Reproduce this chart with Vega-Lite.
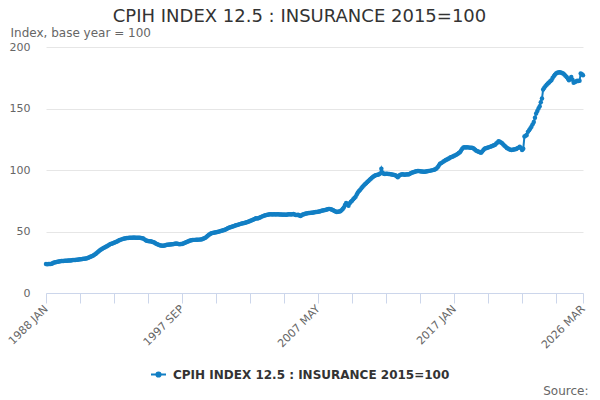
{
  "$schema": "https://vega.github.io/schema/vega-lite/v6.json",
  "width": 537,
  "height": 246,
  "autosize": {"type": "none"},
  "padding": {"left": 46, "top": 47, "right": 17, "bottom": 107},
  "background": "white",
  "config": {
    "font": "DejaVu Sans",
    "view": {"stroke": null}
  },
  "title": {
    "text": "CPIH INDEX 12.5 : INSURANCE 2015=100",
    "anchor": "middle",
    "frame": "group",
    "dx": -15,
    "offset": 0,
    "fontSize": 18,
    "fontWeight": "normal",
    "color": "#333333",
    "font": "DejaVu Sans"
  },
  "data": {
    "values": [
      {"month": "1988-01", "value": 23.5}, {"month": "1988-02", "value": 23.4}, {"month": "1988-03", "value": 23.5}, {"month": "1988-04", "value": 23.6},
      {"month": "1988-05", "value": 23.5}, {"month": "1988-06", "value": 23.8}, {"month": "1988-07", "value": 24.3}, {"month": "1988-08", "value": 24.8},
      {"month": "1988-09", "value": 25.0}, {"month": "1988-10", "value": 25.2}, {"month": "1988-11", "value": 25.4}, {"month": "1988-12", "value": 25.6},
      {"month": "1989-01", "value": 25.9}, {"month": "1989-02", "value": 26.0}, {"month": "1989-03", "value": 26.0}, {"month": "1989-04", "value": 26.1},
      {"month": "1989-05", "value": 26.2}, {"month": "1989-06", "value": 26.3}, {"month": "1989-07", "value": 26.3}, {"month": "1989-08", "value": 26.4},
      {"month": "1989-09", "value": 26.5}, {"month": "1989-10", "value": 26.5}, {"month": "1989-11", "value": 26.6}, {"month": "1989-12", "value": 26.8},
      {"month": "1990-01", "value": 26.8}, {"month": "1990-02", "value": 26.9}, {"month": "1990-03", "value": 27.0}, {"month": "1990-04", "value": 27.1},
      {"month": "1990-05", "value": 27.2}, {"month": "1990-06", "value": 27.4}, {"month": "1990-07", "value": 27.5}, {"month": "1990-08", "value": 27.6},
      {"month": "1990-09", "value": 27.8}, {"month": "1990-10", "value": 27.9}, {"month": "1990-11", "value": 28.0}, {"month": "1990-12", "value": 28.2},
      {"month": "1991-01", "value": 28.6}, {"month": "1991-02", "value": 29.0}, {"month": "1991-03", "value": 29.4}, {"month": "1991-04", "value": 29.8},
      {"month": "1991-05", "value": 30.3}, {"month": "1991-06", "value": 30.9}, {"month": "1991-07", "value": 31.6}, {"month": "1991-08", "value": 32.3},
      {"month": "1991-09", "value": 33.1}, {"month": "1991-10", "value": 34.0}, {"month": "1991-11", "value": 34.8}, {"month": "1991-12", "value": 35.4},
      {"month": "1992-01", "value": 35.9}, {"month": "1992-02", "value": 36.5}, {"month": "1992-03", "value": 37.0}, {"month": "1992-04", "value": 37.6},
      {"month": "1992-05", "value": 38.0}, {"month": "1992-06", "value": 38.6}, {"month": "1992-07", "value": 39.2}, {"month": "1992-08", "value": 39.8},
      {"month": "1992-09", "value": 40.1}, {"month": "1992-10", "value": 40.4}, {"month": "1992-11", "value": 40.8}, {"month": "1992-12", "value": 41.2},
      {"month": "1993-01", "value": 41.6}, {"month": "1993-02", "value": 42.1}, {"month": "1993-03", "value": 42.6}, {"month": "1993-04", "value": 43.1},
      {"month": "1993-05", "value": 43.4}, {"month": "1993-06", "value": 43.8}, {"month": "1993-07", "value": 44.1}, {"month": "1993-08", "value": 44.3},
      {"month": "1993-09", "value": 44.6}, {"month": "1993-10", "value": 44.7}, {"month": "1993-11", "value": 44.8}, {"month": "1993-12", "value": 44.9},
      {"month": "1994-01", "value": 45.0}, {"month": "1994-02", "value": 44.9}, {"month": "1994-03", "value": 45.0}, {"month": "1994-04", "value": 45.1},
      {"month": "1994-05", "value": 45.0}, {"month": "1994-06", "value": 45.0}, {"month": "1994-07", "value": 44.9}, {"month": "1994-08", "value": 45.0},
      {"month": "1994-09", "value": 45.0}, {"month": "1994-10", "value": 44.8}, {"month": "1994-11", "value": 44.6}, {"month": "1994-12", "value": 44.3},
      {"month": "1995-01", "value": 43.6}, {"month": "1995-02", "value": 42.9}, {"month": "1995-03", "value": 42.5}, {"month": "1995-04", "value": 42.3},
      {"month": "1995-05", "value": 42.1}, {"month": "1995-06", "value": 42.0}, {"month": "1995-07", "value": 41.8}, {"month": "1995-08", "value": 41.5},
      {"month": "1995-09", "value": 41.2}, {"month": "1995-10", "value": 40.6}, {"month": "1995-11", "value": 40.0}, {"month": "1995-12", "value": 39.6},
      {"month": "1996-01", "value": 39.2}, {"month": "1996-02", "value": 38.9}, {"month": "1996-03", "value": 38.6}, {"month": "1996-04", "value": 38.5},
      {"month": "1996-05", "value": 38.5}, {"month": "1996-06", "value": 38.7}, {"month": "1996-07", "value": 38.9}, {"month": "1996-08", "value": 39.2},
      {"month": "1996-09", "value": 39.3}, {"month": "1996-10", "value": 39.4}, {"month": "1996-11", "value": 39.5}, {"month": "1996-12", "value": 39.6},
      {"month": "1997-01", "value": 39.7}, {"month": "1997-02", "value": 39.8}, {"month": "1997-03", "value": 40.0}, {"month": "1997-04", "value": 40.2},
      {"month": "1997-05", "value": 40.1}, {"month": "1997-06", "value": 39.9}, {"month": "1997-07", "value": 39.7}, {"month": "1997-08", "value": 39.8},
      {"month": "1997-09", "value": 39.9}, {"month": "1997-10", "value": 40.3}, {"month": "1997-11", "value": 40.7}, {"month": "1997-12", "value": 41.1},
      {"month": "1998-01", "value": 41.5}, {"month": "1998-02", "value": 41.9}, {"month": "1998-03", "value": 42.3}, {"month": "1998-04", "value": 42.6},
      {"month": "1998-05", "value": 42.9}, {"month": "1998-06", "value": 43.1}, {"month": "1998-07", "value": 43.2}, {"month": "1998-08", "value": 43.2},
      {"month": "1998-09", "value": 43.3}, {"month": "1998-10", "value": 43.3}, {"month": "1998-11", "value": 43.4}, {"month": "1998-12", "value": 43.4},
      {"month": "1999-01", "value": 43.5}, {"month": "1999-02", "value": 43.7}, {"month": "1999-03", "value": 44.1}, {"month": "1999-04", "value": 44.6},
      {"month": "1999-05", "value": 45.0}, {"month": "1999-06", "value": 45.8}, {"month": "1999-07", "value": 46.6}, {"month": "1999-08", "value": 47.4},
      {"month": "1999-09", "value": 48.0}, {"month": "1999-10", "value": 48.5}, {"month": "1999-11", "value": 48.8}, {"month": "1999-12", "value": 49.0},
      {"month": "2000-01", "value": 49.2}, {"month": "2000-02", "value": 49.4}, {"month": "2000-03", "value": 49.6}, {"month": "2000-04", "value": 49.8},
      {"month": "2000-05", "value": 50.1}, {"month": "2000-06", "value": 50.4}, {"month": "2000-07", "value": 50.7}, {"month": "2000-08", "value": 51.0},
      {"month": "2000-09", "value": 51.2}, {"month": "2000-10", "value": 51.6}, {"month": "2000-11", "value": 52.1}, {"month": "2000-12", "value": 52.6},
      {"month": "2001-01", "value": 53.0}, {"month": "2001-02", "value": 53.4}, {"month": "2001-03", "value": 53.7}, {"month": "2001-04", "value": 54.0},
      {"month": "2001-05", "value": 54.3}, {"month": "2001-06", "value": 54.6}, {"month": "2001-07", "value": 55.0}, {"month": "2001-08", "value": 55.3},
      {"month": "2001-09", "value": 55.6}, {"month": "2001-10", "value": 55.9}, {"month": "2001-11", "value": 56.2}, {"month": "2001-12", "value": 56.5},
      {"month": "2002-01", "value": 56.7}, {"month": "2002-02", "value": 56.9}, {"month": "2002-03", "value": 57.2}, {"month": "2002-04", "value": 57.5},
      {"month": "2002-05", "value": 57.8}, {"month": "2002-06", "value": 58.2}, {"month": "2002-07", "value": 58.5}, {"month": "2002-08", "value": 58.9},
      {"month": "2002-09", "value": 59.3}, {"month": "2002-10", "value": 59.8}, {"month": "2002-11", "value": 60.2}, {"month": "2002-12", "value": 60.7},
      {"month": "2003-01", "value": 60.5}, {"month": "2003-02", "value": 60.7}, {"month": "2003-03", "value": 61.1}, {"month": "2003-04", "value": 61.6},
      {"month": "2003-05", "value": 62.1}, {"month": "2003-06", "value": 62.5}, {"month": "2003-07", "value": 62.9}, {"month": "2003-08", "value": 63.2},
      {"month": "2003-09", "value": 63.5}, {"month": "2003-10", "value": 63.7}, {"month": "2003-11", "value": 63.9}, {"month": "2003-12", "value": 64.0},
      {"month": "2004-01", "value": 64.0}, {"month": "2004-02", "value": 63.9}, {"month": "2004-03", "value": 64.1}, {"month": "2004-04", "value": 64.0},
      {"month": "2004-05", "value": 63.8}, {"month": "2004-06", "value": 64.0}, {"month": "2004-07", "value": 64.1}, {"month": "2004-08", "value": 63.9},
      {"month": "2004-09", "value": 63.8}, {"month": "2004-10", "value": 63.9}, {"month": "2004-11", "value": 63.7}, {"month": "2004-12", "value": 63.8},
      {"month": "2005-01", "value": 63.7}, {"month": "2005-02", "value": 63.6}, {"month": "2005-03", "value": 63.9}, {"month": "2005-04", "value": 64.1},
      {"month": "2005-05", "value": 64.0}, {"month": "2005-06", "value": 63.8}, {"month": "2005-07", "value": 64.0}, {"month": "2005-08", "value": 64.2},
      {"month": "2005-09", "value": 63.9}, {"month": "2005-10", "value": 63.5}, {"month": "2005-11", "value": 63.4}, {"month": "2005-12", "value": 63.6},
      {"month": "2006-01", "value": 63.0}, {"month": "2006-02", "value": 62.6}, {"month": "2006-03", "value": 63.2}, {"month": "2006-04", "value": 63.8},
      {"month": "2006-05", "value": 64.1}, {"month": "2006-06", "value": 64.5}, {"month": "2006-07", "value": 64.7}, {"month": "2006-08", "value": 64.9},
      {"month": "2006-09", "value": 65.0}, {"month": "2006-10", "value": 65.1}, {"month": "2006-11", "value": 65.2}, {"month": "2006-12", "value": 65.3},
      {"month": "2007-01", "value": 65.5}, {"month": "2007-02", "value": 65.6}, {"month": "2007-03", "value": 65.8}, {"month": "2007-04", "value": 65.9},
      {"month": "2007-05", "value": 66.1}, {"month": "2007-06", "value": 66.3}, {"month": "2007-07", "value": 66.5}, {"month": "2007-08", "value": 66.8},
      {"month": "2007-09", "value": 67.0}, {"month": "2007-10", "value": 67.2}, {"month": "2007-11", "value": 67.5}, {"month": "2007-12", "value": 67.7},
      {"month": "2008-01", "value": 68.0}, {"month": "2008-02", "value": 68.3}, {"month": "2008-03", "value": 68.4}, {"month": "2008-04", "value": 68.1},
      {"month": "2008-05", "value": 67.7}, {"month": "2008-06", "value": 67.2}, {"month": "2008-07", "value": 66.7}, {"month": "2008-08", "value": 66.3},
      {"month": "2008-09", "value": 65.9}, {"month": "2008-10", "value": 66.0}, {"month": "2008-11", "value": 66.2}, {"month": "2008-12", "value": 66.4},
      {"month": "2009-01", "value": 67.2}, {"month": "2009-02", "value": 68.3}, {"month": "2009-03", "value": 69.6}, {"month": "2009-04", "value": 71.5},
      {"month": "2009-05", "value": 73.1}, {"month": "2009-06", "value": 72.0}, {"month": "2009-07", "value": 71.0}, {"month": "2009-08", "value": 73.0},
      {"month": "2009-09", "value": 74.2}, {"month": "2009-10", "value": 75.0}, {"month": "2009-11", "value": 76.3}, {"month": "2009-12", "value": 77.3},
      {"month": "2010-01", "value": 78.2}, {"month": "2010-02", "value": 80.0}, {"month": "2010-03", "value": 81.7}, {"month": "2010-04", "value": 82.9},
      {"month": "2010-05", "value": 84.0}, {"month": "2010-06", "value": 85.2}, {"month": "2010-07", "value": 86.3}, {"month": "2010-08", "value": 87.4},
      {"month": "2010-09", "value": 88.4}, {"month": "2010-10", "value": 89.3}, {"month": "2010-11", "value": 90.2}, {"month": "2010-12", "value": 91.1},
      {"month": "2011-01", "value": 92.0}, {"month": "2011-02", "value": 92.9}, {"month": "2011-03", "value": 93.8}, {"month": "2011-04", "value": 94.5},
      {"month": "2011-05", "value": 95.1}, {"month": "2011-06", "value": 95.7}, {"month": "2011-07", "value": 96.0}, {"month": "2011-08", "value": 96.2},
      {"month": "2011-09", "value": 96.5}, {"month": "2011-10", "value": 97.2}, {"month": "2011-11", "value": 101.0}, {"month": "2011-12", "value": 98.0},
      {"month": "2012-01", "value": 97.0}, {"month": "2012-02", "value": 96.8}, {"month": "2012-03", "value": 96.9}, {"month": "2012-04", "value": 97.0},
      {"month": "2012-05", "value": 96.8}, {"month": "2012-06", "value": 96.8}, {"month": "2012-07", "value": 96.6}, {"month": "2012-08", "value": 96.4},
      {"month": "2012-09", "value": 96.2}, {"month": "2012-10", "value": 96.0}, {"month": "2012-11", "value": 95.7}, {"month": "2012-12", "value": 95.0},
      {"month": "2013-01", "value": 94.1}, {"month": "2013-02", "value": 95.4}, {"month": "2013-03", "value": 96.0}, {"month": "2013-04", "value": 96.3},
      {"month": "2013-05", "value": 96.5}, {"month": "2013-06", "value": 96.3}, {"month": "2013-07", "value": 96.1}, {"month": "2013-08", "value": 96.3},
      {"month": "2013-09", "value": 96.5}, {"month": "2013-10", "value": 96.3}, {"month": "2013-11", "value": 96.8}, {"month": "2013-12", "value": 97.3},
      {"month": "2014-01", "value": 97.8}, {"month": "2014-02", "value": 98.1}, {"month": "2014-03", "value": 98.4}, {"month": "2014-04", "value": 98.7},
      {"month": "2014-05", "value": 98.9}, {"month": "2014-06", "value": 99.1}, {"month": "2014-07", "value": 99.2}, {"month": "2014-08", "value": 99.0},
      {"month": "2014-09", "value": 98.8}, {"month": "2014-10", "value": 98.7}, {"month": "2014-11", "value": 98.6}, {"month": "2014-12", "value": 98.6},
      {"month": "2015-01", "value": 98.7}, {"month": "2015-02", "value": 98.9}, {"month": "2015-03", "value": 99.1}, {"month": "2015-04", "value": 99.3},
      {"month": "2015-05", "value": 99.5}, {"month": "2015-06", "value": 99.7}, {"month": "2015-07", "value": 99.9}, {"month": "2015-08", "value": 100.2},
      {"month": "2015-09", "value": 100.6}, {"month": "2015-10", "value": 101.3}, {"month": "2015-11", "value": 102.3}, {"month": "2015-12", "value": 103.6},
      {"month": "2016-01", "value": 105.0}, {"month": "2016-02", "value": 105.6}, {"month": "2016-03", "value": 106.2}, {"month": "2016-04", "value": 106.9},
      {"month": "2016-05", "value": 107.5}, {"month": "2016-06", "value": 108.1}, {"month": "2016-07", "value": 108.6}, {"month": "2016-08", "value": 109.1},
      {"month": "2016-09", "value": 109.6}, {"month": "2016-10", "value": 110.3}, {"month": "2016-11", "value": 110.6}, {"month": "2016-12", "value": 111.0},
      {"month": "2017-01", "value": 111.5}, {"month": "2017-02", "value": 111.9}, {"month": "2017-03", "value": 112.5}, {"month": "2017-04", "value": 113.1},
      {"month": "2017-05", "value": 113.8}, {"month": "2017-06", "value": 114.4}, {"month": "2017-07", "value": 115.8}, {"month": "2017-08", "value": 117.2},
      {"month": "2017-09", "value": 118.4}, {"month": "2017-10", "value": 118.5}, {"month": "2017-11", "value": 118.3}, {"month": "2017-12", "value": 118.5},
      {"month": "2018-01", "value": 118.4}, {"month": "2018-02", "value": 118.2}, {"month": "2018-03", "value": 118.0}, {"month": "2018-04", "value": 118.1},
      {"month": "2018-05", "value": 117.9}, {"month": "2018-06", "value": 117.2}, {"month": "2018-07", "value": 116.4}, {"month": "2018-08", "value": 115.7},
      {"month": "2018-09", "value": 115.2}, {"month": "2018-10", "value": 114.8}, {"month": "2018-11", "value": 114.4}, {"month": "2018-12", "value": 114.1},
      {"month": "2019-01", "value": 115.0}, {"month": "2019-02", "value": 116.2}, {"month": "2019-03", "value": 117.3}, {"month": "2019-04", "value": 117.6},
      {"month": "2019-05", "value": 117.9}, {"month": "2019-06", "value": 118.3}, {"month": "2019-07", "value": 118.6}, {"month": "2019-08", "value": 119.0},
      {"month": "2019-09", "value": 119.3}, {"month": "2019-10", "value": 119.7}, {"month": "2019-11", "value": 120.1}, {"month": "2019-12", "value": 120.6},
      {"month": "2020-01", "value": 121.5}, {"month": "2020-02", "value": 122.4}, {"month": "2020-03", "value": 123.3}, {"month": "2020-04", "value": 123.0},
      {"month": "2020-05", "value": 122.4}, {"month": "2020-06", "value": 121.7}, {"month": "2020-07", "value": 120.8}, {"month": "2020-08", "value": 119.8},
      {"month": "2020-09", "value": 118.9}, {"month": "2020-10", "value": 117.9}, {"month": "2020-11", "value": 117.4}, {"month": "2020-12", "value": 116.9},
      {"month": "2021-01", "value": 116.5}, {"month": "2021-02", "value": 116.3}, {"month": "2021-03", "value": 116.4}, {"month": "2021-04", "value": 116.6},
      {"month": "2021-05", "value": 116.8}, {"month": "2021-06", "value": 117.1}, {"month": "2021-07", "value": 117.6}, {"month": "2021-08", "value": 118.2},
      {"month": "2021-09", "value": 119.0}, {"month": "2021-10", "value": 117.8}, {"month": "2021-11", "value": 116.3}, {"month": "2021-12", "value": 117.2},
      {"month": "2022-01", "value": 127.3}, {"month": "2022-02", "value": 127.9}, {"month": "2022-03", "value": 128.5}, {"month": "2022-04", "value": 131.0},
      {"month": "2022-05", "value": 132.4}, {"month": "2022-06", "value": 133.7}, {"month": "2022-07", "value": 135.2}, {"month": "2022-08", "value": 137.1},
      {"month": "2022-09", "value": 139.0}, {"month": "2022-10", "value": 142.5}, {"month": "2022-11", "value": 145.9}, {"month": "2022-12", "value": 148.0},
      {"month": "2023-01", "value": 150.0}, {"month": "2023-02", "value": 151.9}, {"month": "2023-03", "value": 155.0}, {"month": "2023-04", "value": 158.1},
      {"month": "2023-05", "value": 165.4}, {"month": "2023-06", "value": 166.8}, {"month": "2023-07", "value": 168.2}, {"month": "2023-08", "value": 169.3},
      {"month": "2023-09", "value": 170.3}, {"month": "2023-10", "value": 171.2}, {"month": "2023-11", "value": 172.1}, {"month": "2023-12", "value": 173.0},
      {"month": "2024-01", "value": 174.8}, {"month": "2024-02", "value": 176.3}, {"month": "2024-03", "value": 177.4}, {"month": "2024-04", "value": 178.5},
      {"month": "2024-05", "value": 179.0}, {"month": "2024-06", "value": 179.3}, {"month": "2024-07", "value": 179.5}, {"month": "2024-08", "value": 179.2},
      {"month": "2024-09", "value": 178.9}, {"month": "2024-10", "value": 178.5}, {"month": "2024-11", "value": 177.6}, {"month": "2024-12", "value": 176.6},
      {"month": "2025-01", "value": 175.7}, {"month": "2025-02", "value": 174.4}, {"month": "2025-03", "value": 173.0}, {"month": "2025-04", "value": 174.3},
      {"month": "2025-05", "value": 175.7}, {"month": "2025-06", "value": 173.3}, {"month": "2025-07", "value": 170.9}, {"month": "2025-08", "value": 171.5},
      {"month": "2025-09", "value": 172.0}, {"month": "2025-10", "value": 172.5}, {"month": "2025-11", "value": 172.4}, {"month": "2025-12", "value": 172.5},
      {"month": "2026-01", "value": 178.5}, {"month": "2026-02", "value": 177.8}, {"month": "2026-03", "value": 177.1}
    ]
  },
  "mark": {
    "type": "line",
    "strokeWidth": 2,
    "point": {"filled": true, "size": 20}
  },
  "encoding": {
    "x": {
      "field": "month",
      "type": "temporal",
      "scale": {"type": "utc", "nice": false},
      "axis": {
        "title": "Source:",
        "titleX": 542,
        "titleY": 101,
        "titleAlign": "right",
        "titleBaseline": "alphabetic",
        "titleFontSize": 12,
        "titleFontWeight": "normal",
        "titleColor": "#666666",
        "values": [
          {"year": 1988, "month": 1, "date": 1, "utc": true},
          {"year": 1990, "month": 6, "date": 1, "utc": true},
          {"year": 1992, "month": 11, "date": 1, "utc": true},
          {"year": 1995, "month": 4, "date": 1, "utc": true},
          {"year": 1997, "month": 9, "date": 1, "utc": true},
          {"year": 2000, "month": 2, "date": 1, "utc": true},
          {"year": 2002, "month": 7, "date": 1, "utc": true},
          {"year": 2004, "month": 12, "date": 1, "utc": true},
          {"year": 2007, "month": 5, "date": 1, "utc": true},
          {"year": 2009, "month": 10, "date": 1, "utc": true},
          {"year": 2012, "month": 3, "date": 1, "utc": true},
          {"year": 2014, "month": 8, "date": 1, "utc": true},
          {"year": 2017, "month": 1, "date": 1, "utc": true},
          {"year": 2019, "month": 6, "date": 1, "utc": true},
          {"year": 2021, "month": 11, "date": 1, "utc": true},
          {"year": 2024, "month": 4, "date": 1, "utc": true},
          {"year": 2026, "month": 3, "date": 1, "utc": true}
        ],
        "labelExpr": "indexof(['1988','1997','2007','2017','2026'], utcFormat(datum.value, '%Y')) >= 0 ? upper(utcFormat(datum.value, '%Y %b')) : ''",
        "labelAngle": -45,
        "labelAlign": "right",
        "labelBaseline": "middle",
        "labelPadding": 4,
        "labelFontSize": 11,
        "labelColor": "#666666",
        "labelOverlap": false,
        "labelFlush": false,
        "labelBound": false,
        "grid": false,
        "tickColor": "#ccd6eb",
        "tickSize": 10,
        "domainColor": "#ccd6eb"
      }
    },
    "y": {
      "field": "value",
      "type": "quantitative",
      "scale": {"domain": [0, 200], "nice": false},
      "axis": {
        "title": "Index, base year = 100",
        "titleAngle": 0,
        "titleAlign": "left",
        "titleBaseline": "alphabetic",
        "titleX": -36,
        "titleY": -11,
        "titleFontSize": 12,
        "titleFontWeight": "normal",
        "titleColor": "#666666",
        "values": [0, 50, 100, 150, 200],
        "labelFontSize": 11,
        "labelColor": "#666666",
        "labelPadding": 16,
        "domain": false,
        "ticks": false,
        "gridColor": "#e6e6e6"
      }
    },
    "color": {
      "datum": "CPIH INDEX 12.5 : INSURANCE 2015=100",
      "scale": {"range": ["#127fc4"]},
      "legend": {
        "title": null,
        "orient": "none",
        "legendX": 104,
        "legendY": 319,
        "padding": 0,
        "symbolType": "M-1,0H1M-0.28,0A0.28,0.28,0,1,1,0.28,0A0.28,0.28,0,1,1,-0.28,0",
        "symbolSize": 225,
        "symbolStrokeWidth": 2,
        "symbolFillColor": "#127fc4",
        "symbolStrokeColor": "#127fc4",
        "labelOffset": 6,
        "labelLimit": 0,
        "labelFontSize": 12,
        "labelFontWeight": "bold",
        "labelColor": "#333333"
      }
    }
  }
}
